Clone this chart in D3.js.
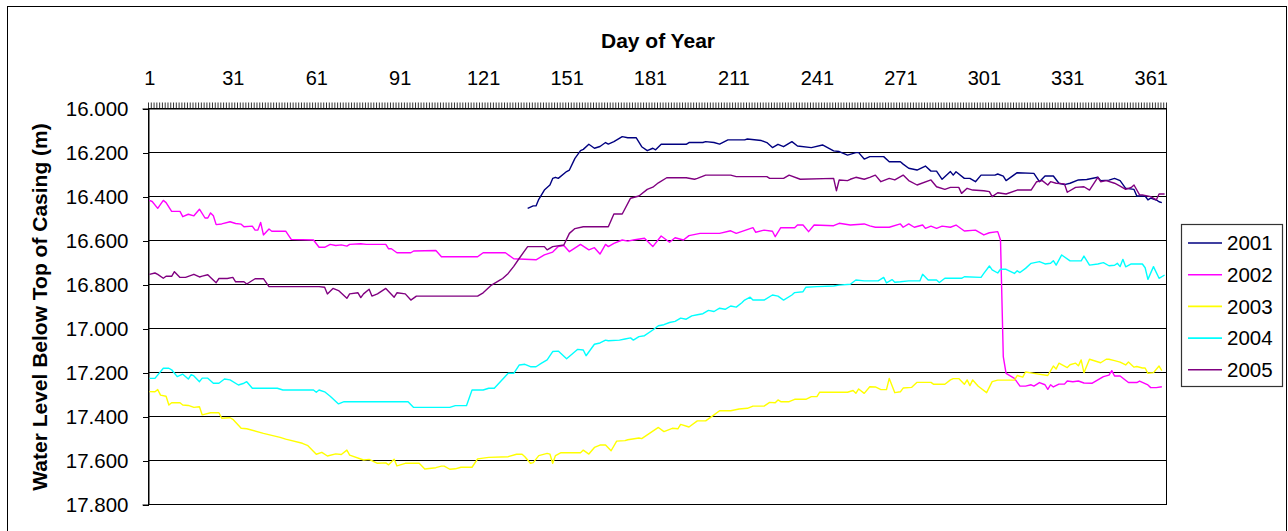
<!DOCTYPE html>
<html>
<head>
<meta charset="utf-8">
<script src="https://cdn.jsdelivr.net/npm/d3@7"></script>
<style>
  body { margin: 0; background: #fff; }
  svg { display: block; font-family: "Liberation Sans", Arial, sans-serif; }
</style>
</head>
<body>
<svg id="chart" width="1288" height="531"></svg>
<script>
// day of year, water level (m)
var s2001 = [[137,16.456],[139,16.445],[140,16.445],[141,16.415],[143,16.373],[145,16.35],[146,16.32],[147,16.315],[148,16.32],[151,16.289],[152,16.282],[154,16.229],[156,16.194],[157,16.188],[159,16.165],[161,16.183],[163,16.175],[165,16.157],[166,16.164],[168,16.153],[171,16.13],[173,16.135],[176,16.135],[178,16.176],[180,16.194],[182,16.183],[183,16.19],[185,16.165],[194,16.165],[195,16.157],[200,16.157],[201,16.153],[204,16.157],[206,16.164],[209,16.145],[215,16.145],[216,16.141],[221,16.148],[223,16.157],[225,16.18],[227,16.165],[229,16.176],[232,16.153],[234,16.173],[239,16.18],[243,16.168],[247,16.195],[249,16.198],[252,16.214],[255,16.203],[256,16.203],[258,16.232],[260,16.221],[265,16.221],[267,16.244],[271,16.244],[272,16.255],[274,16.274],[277,16.282],[280,16.264],[282,16.287],[284,16.287],[286,16.324],[289,16.289],[290,16.305],[291,16.29],[294,16.32],[296,16.32],[298,16.335],[300,16.305],[305,16.305],[306,16.3],[308,16.31],[309,16.33],[313,16.294],[319,16.297],[321,16.335],[323,16.309],[326,16.309],[328,16.342],[330,16.348],[332,16.342],[335,16.327],[338,16.325],[342,16.315],[343,16.33],[346,16.328],[348,16.32],[350,16.33],[352,16.365],[355,16.37],[356,16.4],[359,16.4],[360,16.418],[361,16.41],[363,16.418],[364,16.426],[365,16.43]];

var s2002 = [[1,16.42],[2,16.425],[4,16.456],[6,16.42],[7,16.43],[9,16.47],[12,16.47],[13,16.494],[15,16.483],[17,16.49],[19,16.46],[21,16.5],[22,16.5],[23,16.477],[24,16.49],[25,16.53],[27,16.527],[30,16.517],[32,16.525],[34,16.528],[35,16.54],[38,16.537],[39,16.555],[40,16.555],[41,16.52],[42,16.577],[44,16.55],[45,16.56],[50,16.56],[52,16.597],[60,16.6],[62,16.633],[64,16.633],[66,16.62],[68,16.625],[70,16.622],[72,16.628],[73,16.62],[77,16.617],[79,16.62],[86,16.62],[87,16.64],[88,16.64],[90,16.658],[95,16.658],[96,16.65],[104,16.648],[106,16.676],[119,16.676],[121,16.658],[129,16.658],[132,16.685],[140,16.69],[143,16.668],[146,16.655],[148,16.63],[150,16.625],[152,16.653],[156,16.62],[159,16.645],[161,16.635],[163,16.664],[165,16.62],[166,16.63],[168,16.615],[171,16.6],[173,16.605],[175,16.6],[179,16.592],[182,16.63],[185,16.582],[188,16.61],[190,16.59],[193,16.6],[195,16.58],[199,16.57],[206,16.57],[210,16.558],[212,16.57],[218,16.544],[219,16.565],[222,16.555],[225,16.56],[226,16.585],[228,16.544],[233,16.544],[234,16.532],[236,16.532],[238,16.562],[240,16.532],[247,16.535],[249,16.524],[253,16.532],[258,16.527],[260,16.536],[262,16.542],[267,16.542],[271,16.527],[272,16.542],[274,16.527],[276,16.542],[279,16.532],[280,16.547],[282,16.537],[284,16.547],[286,16.537],[289,16.542],[291,16.532],[294,16.559],[298,16.555],[301,16.577],[303,16.567],[306,16.562],[307,16.6],[308,17.13],[309,17.206],[312,17.229],[314,17.264],[316,17.264],[318,17.258],[319,17.264],[321,17.248],[323,17.258],[324,17.279],[325,17.258],[326,17.268],[328,17.255],[330,17.255],[331,17.241],[333,17.244],[335,17.241],[337,17.25],[340,17.251],[344,17.221],[346,17.214],[347,17.194],[348,17.218],[350,17.218],[353,17.248],[356,17.248],[357,17.241],[360,17.259],[361,17.271],[363,17.271],[365,17.267]];

var s2003 = [[1,17.289],[3,17.29],[4,17.28],[5,17.305],[7,17.31],[8,17.35],[9,17.34],[12,17.34],[13,17.35],[15,17.352],[17,17.361],[19,17.358],[20,17.395],[23,17.385],[26,17.385],[27,17.41],[30,17.408],[31,17.415],[34,17.456],[36,17.458],[42,17.479],[48,17.497],[50,17.505],[56,17.524],[58,17.535],[61,17.574],[63,17.565],[65,17.582],[68,17.572],[70,17.575],[72,17.555],[73,17.578],[78,17.6],[80,17.597],[83,17.615],[86,17.613],[87,17.622],[89,17.597],[90,17.627],[93,17.615],[98,17.615],[100,17.641],[104,17.635],[106,17.628],[107,17.628],[109,17.642],[111,17.64],[113,17.633],[117,17.633],[119,17.595],[123,17.588],[130,17.585],[133,17.574],[135,17.574],[136,17.585],[138,17.615],[139,17.612],[141,17.58],[144,17.57],[145,17.573],[146,17.615],[147,17.58],[149,17.567],[156,17.567],[157,17.555],[159,17.573],[161,17.543],[163,17.532],[165,17.532],[167,17.558],[169,17.514],[172,17.512],[173,17.508],[177,17.5],[178,17.503],[180,17.486],[184,17.452],[186,17.471],[189,17.456],[191,17.458],[192,17.438],[195,17.45],[198,17.422],[201,17.422],[204,17.395],[206,17.376],[210,17.376],[213,17.368],[216,17.365],[218,17.355],[222,17.355],[224,17.338],[226,17.34],[227,17.327],[228,17.335],[231,17.335],[233,17.324],[237,17.324],[239,17.312],[241,17.312],[242,17.292],[252,17.292],[254,17.284],[255,17.297],[256,17.277],[258,17.297],[260,17.267],[262,17.268],[264,17.28],[266,17.28],[267,17.229],[269,17.294],[271,17.29],[272,17.273],[275,17.27],[277,17.247],[282,17.247],[283,17.256],[287,17.256],[289,17.236],[290,17.23],[292,17.23],[294,17.256],[295,17.236],[296,17.262],[297,17.236],[299,17.265],[302,17.294],[304,17.244],[306,17.237],[312,17.237],[313,17.216],[315,17.223],[316,17.2],[319,17.206],[324,17.216],[326,17.173],[327,17.186],[328,17.16],[331,17.18],[332,17.167],[334,17.16],[335,17.172],[336,17.145],[337,17.203],[339,17.142],[341,17.15],[343,17.158],[345,17.142],[346,17.142],[348,17.148],[350,17.155],[352,17.168],[353,17.155],[355,17.178],[356,17.175],[358,17.182],[359,17.182],[360,17.206],[362,17.203],[364,17.173],[365,17.194]];

var s2004 = [[1,17.229],[3,17.229],[6,17.183],[8,17.183],[9,17.19],[11,17.221],[13,17.21],[15,17.232],[16,17.212],[17,17.218],[19,17.244],[20,17.228],[22,17.228],[24,17.251],[26,17.251],[28,17.232],[30,17.236],[33,17.259],[35,17.251],[36,17.244],[38,17.274],[47,17.274],[49,17.282],[60,17.282],[61,17.292],[62,17.282],[64,17.29],[66,17.31],[69,17.345],[71,17.335],[94,17.335],[96,17.361],[109,17.361],[111,17.353],[115,17.353],[117,17.282],[121,17.282],[123,17.274],[125,17.274],[128,17.233],[130,17.206],[132,17.206],[134,17.168],[136,17.165],[138,17.176],[140,17.176],[142,17.16],[144,17.145],[146,17.107],[148,17.105],[151,17.14],[155,17.097],[157,17.1],[158,17.126],[161,17.074],[163,17.068],[165,17.055],[166,17.058],[170,17.055],[172,17.05],[174,17.045],[175,17.055],[177,17.039],[179,17.035],[182,17.009],[184,16.99],[186,16.985],[188,16.975],[190,16.97],[192,16.955],[194,16.96],[196,16.945],[198,16.94],[200,16.935],[202,16.92],[204,16.925],[206,16.91],[208,16.915],[210,16.9],[212,16.905],[214,16.885],[215,16.873],[217,16.86],[218,16.873],[222,16.873],[225,16.85],[227,16.855],[229,16.873],[232,16.85],[233,16.839],[236,16.835],[237,16.815],[241,16.812],[247,16.809],[249,16.805],[253,16.801],[255,16.782],[258,16.786],[263,16.786],[265,16.77],[266,16.795],[268,16.78],[269,16.792],[271,16.79],[274,16.786],[278,16.786],[279,16.756],[281,16.782],[284,16.782],[285,16.793],[287,16.774],[293,16.774],[294,16.767],[300,16.77],[301,16.752],[303,16.718],[304,16.736],[306,16.75],[307,16.733],[309,16.733],[312,16.752],[313,16.74],[314,16.748],[316,16.729],[318,16.706],[321,16.698],[323,16.709],[325,16.706],[326,16.694],[327,16.714],[329,16.668],[332,16.695],[336,16.695],[337,16.673],[339,16.714],[342,16.709],[344,16.703],[346,16.717],[348,16.715],[349,16.706],[350,16.721],[351,16.688],[352,16.722],[354,16.709],[358,16.709],[359,16.726],[360,16.779],[362,16.721],[364,16.774],[366,16.759]];

var s2005 = [[1,16.756],[3,16.75],[4,16.756],[6,16.774],[7,16.765],[9,16.765],[10,16.744],[12,16.77],[14,16.77],[17,16.756],[19,16.768],[20,16.764],[22,16.758],[23,16.77],[25,16.794],[26,16.775],[29,16.775],[31,16.77],[32,16.79],[35,16.79],[36,16.8],[39,16.776],[42,16.776],[44,16.812],[62,16.812],[64,16.815],[65,16.845],[67,16.82],[69,16.83],[72,16.865],[73,16.845],[76,16.84],[77,16.862],[78,16.845],[80,16.824],[81,16.855],[83,16.845],[86,16.82],[89,16.86],[90,16.84],[93,16.845],[95,16.873],[97,16.855],[119,16.855],[121,16.84],[124,16.805],[127,16.782],[128,16.775],[130,16.752],[132,16.72],[134,16.683],[137,16.63],[143,16.63],[144,16.645],[146,16.63],[150,16.623],[152,16.57],[154,16.548],[157,16.54],[166,16.54],[168,16.482],[171,16.482],[174,16.41],[177,16.4],[180,16.37],[182,16.36],[184,16.34],[187,16.317],[194,16.317],[197,16.324],[198,16.32],[201,16.305],[210,16.305],[212,16.312],[223,16.312],[224,16.32],[229,16.32],[231,16.305],[235,16.324],[247,16.32],[248,16.376],[249,16.327],[252,16.33],[253,16.324],[255,16.315],[258,16.324],[260,16.315],[262,16.305],[264,16.335],[267,16.32],[269,16.327],[272,16.305],[274,16.33],[277,16.35],[282,16.327],[284,16.358],[287,16.37],[289,16.361],[292,16.361],[293,16.388],[295,16.365],[297,16.373],[301,16.376],[303,16.38],[304,16.403],[306,16.385],[309,16.391],[313,16.373],[318,16.373],[320,16.335],[322,16.33],[324,16.35],[325,16.335],[327,16.342],[330,16.345],[331,16.383],[334,16.361],[337,16.358],[339,16.373],[342,16.315],[343,16.335],[345,16.33],[348,16.342],[350,16.355],[352,16.37],[354,16.361],[355,16.35],[357,16.395],[358,16.395],[361,16.403],[363,16.418],[364,16.391],[366,16.391]];

var seriesNames = ["2001", "2002", "2003", "2004", "2005"];
var seriesData = [s2001, s2002, s2003, s2004, s2005];
var seriesColors = ["#000080", "#ff00ff", "#ffff00", "#00ffff", "#800080"];

var dayLabels = [1, 31, 61, 91, 121, 151, 181, 211, 241, 271, 301, 331, 361];
var levelTicks = [16.0, 16.2, 16.4, 16.6, 16.8, 17.0, 17.2, 17.4, 17.6, 17.8];
var nDays = 366;

var svg = d3.select("#chart");

// outer chart border
svg.append("rect")
    .attr("x", 7.5).attr("y", 6.5)
    .attr("width", 1279).attr("height", 560)
    .attr("fill", "none").attr("stroke", "#000").attr("stroke-width", 1);

var margin = {top: 108, left: 148, right: 1166, bottom: 504};

var x = d3.scaleLinear().domain([0.5, nDays + 0.5]).range([margin.left, margin.right]);
var y = d3.scaleLinear().domain([16, 17.8]).range([margin.top, margin.bottom]);

// gridlines
svg.append("g")
    .selectAll("line")
    .data(levelTicks)
    .enter().append("line")
    .attr("x1", margin.left).attr("x2", margin.right)
    .attr("y1", function(d) { return Math.round(y(d)) + 0.5; })
    .attr("y2", function(d) { return Math.round(y(d)) + 0.5; })
    .attr("stroke", "#000").attr("stroke-width", 1)
    .attr("shape-rendering", "crispEdges");

// plot frame right + bottom
svg.append("rect")
    .attr("x", margin.left + 0.5).attr("y", margin.top + 0.5)
    .attr("width", margin.right - margin.left).attr("height", margin.bottom - margin.top)
    .attr("fill", "none").attr("stroke", "#000").attr("stroke-width", 1)
    .attr("shape-rendering", "crispEdges");

// y axis
var yAxis = svg.append("g")
    .attr("transform", "translate(" + (margin.left + 0.5) + ",0.5)")
    .call(d3.axisLeft(y).tickValues(levelTicks).tickSize(6).tickPadding(14)
        .tickFormat(d3.format(".3f")));
yAxis.select(".domain").attr("stroke", "#000");
yAxis.selectAll(".tick line").attr("stroke", "#000").attr("shape-rendering", "crispEdges");
yAxis.selectAll("text").attr("font-size", "20.5px").attr("fill", "#000")
    .attr("font-family", "'Liberation Sans', Arial, sans-serif");

// x axis on top: minor ticks at day boundaries
var boundaries = d3.range(0, nDays + 1).map(function(i) { return i + 0.5; });
var xMinor = svg.append("g")
    .attr("transform", "translate(0," + (margin.top + 0.5) + ")")
    .call(d3.axisTop(x).tickValues(boundaries).tickSize(6).tickSizeOuter(0).tickFormat(""));
xMinor.select(".domain").attr("stroke", "#000");
xMinor.selectAll(".tick line").attr("stroke", "#000").attr("stroke-width", 0.8);

// x labels
var xLab = svg.append("g")
    .attr("transform", "translate(0," + (margin.top) + ")")
    .call(d3.axisTop(x).tickValues(dayLabels).tickSize(0).tickPadding(23));
xLab.select(".domain").remove();
xLab.selectAll("text").attr("font-size", "20px").attr("fill", "#000")
    .attr("font-family", "'Liberation Sans', Arial, sans-serif");

// titles
svg.append("text")
    .attr("x", 658).attr("y", 48)
    .attr("text-anchor", "middle")
    .attr("font-size", "21px").attr("font-weight", "bold")
    .text("Day of Year");

svg.append("text")
    .attr("transform", "translate(47,307) rotate(-90)")
    .attr("text-anchor", "middle")
    .attr("font-size", "21px").attr("font-weight", "bold")
    .text("Water Level Below Top of Casing (m)");

// lines
var line = d3.line()
    .x(function(d) { return x(d[0]); })
    .y(function(d) { return y(d[1]); });

svg.append("g")
    .selectAll("path")
    .data(seriesData)
    .enter().append("path")
    .attr("d", line)
    .attr("fill", "none")
    .attr("stroke", function(d, i) { return seriesColors[i]; })
    .attr("stroke-width", 1.4)
    .attr("stroke-linejoin", "round");

// legend
var legend = svg.append("g").attr("transform", "translate(1181,224)");
legend.append("rect")
    .attr("x", 0.5).attr("y", 0.5)
    .attr("width", 101).attr("height", 162)
    .attr("fill", "#fff").attr("stroke", "#333").attr("stroke-width", 1.2);

var item = legend.selectAll("g.item")
    .data(seriesNames)
    .enter().append("g")
    .attr("class", "item")
    .attr("transform", function(d, i) { return "translate(0," + (19 + i * 31.7) + ")"; });
item.append("line")
    .attr("x1", 7).attr("x2", 41)
    .attr("stroke", function(d, i) { return seriesColors[i]; })
    .attr("stroke-width", 1.6);
item.append("text")
    .attr("x", 46).attr("dy", "0.35em")
    .attr("font-size", "20.5px")
    .text(function(d) { return d; });
</script>
</body>
</html>
